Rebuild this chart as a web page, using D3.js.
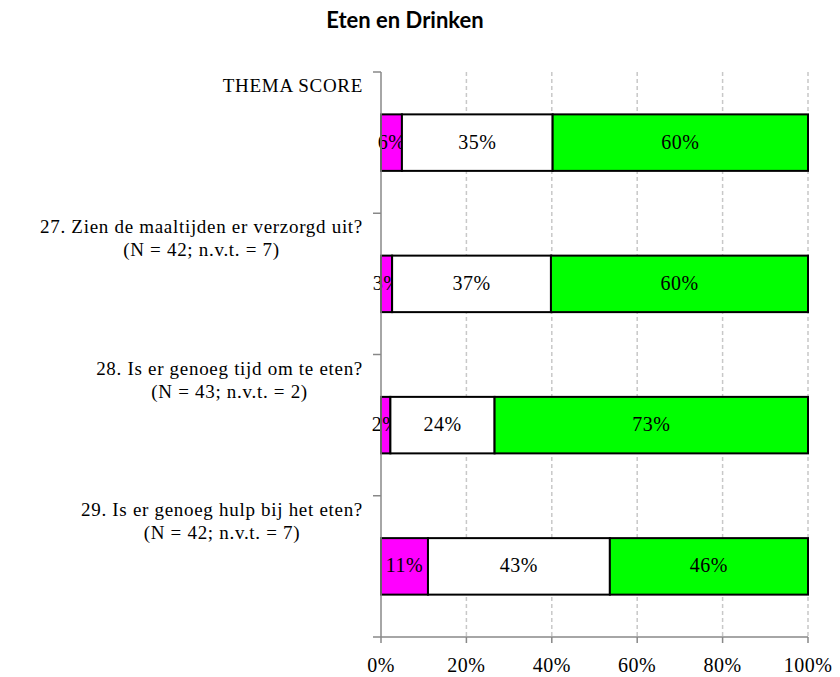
<!DOCTYPE html>
<html lang="nl">
<head>
<meta charset="utf-8">
<script src="https://d3js.org/d3.v7.min.js"></script>
<style>
  body { margin: 0; background: #fff; }
  svg text { font-family: "Liberation Serif", "DejaVu Serif", serif; fill: #000; }
</style>
</head>
<body>
<svg id="chart"></svg>
<script>
// categories (each label can have two lines)
const categories = ["THEMA SCORE", "27", "28", "29"];
const labelLines = [
  ["THEMA SCORE"],
  ["27. Zien de maaltijden er verzorgd uit?", "(N = 42; n.v.t. = 7)"],
  ["28. Is er genoeg tijd om te eten?", "(N = 43; n.v.t. = 2)"],
  ["29. Is er genoeg hulp bij het eten?", "(N = 42; n.v.t. = 7)"]
];
// share of answers per category, in percent (as drawn)
const negatief = [4.9, 2.6, 2.2, 11.0];
const neutraal = [35.3, 37.2, 24.4, 42.6];
const positief = [59.8, 60.2, 73.4, 46.4];
// labels printed in the bars
const negatiefLabels = ["6%", "3%", "2%", "11%"];
const neutraalLabels = ["35%", "37%", "24%", "43%"];
const positiefLabels = ["60%", "60%", "73%", "46%"];
const xTicks = [0, 20, 40, 60, 80, 100];

const width = 840, height = 677;
const seriesKeys = ["negatief", "neutraal", "positief"];
const colors = { negatief: "#ff00ff", neutraal: "#ffffff", positief: "#00ff00" };
const labelsByKey = { negatief: negatiefLabels, neutraal: neutraalLabels, positief: positiefLabels };

const rows = categories.map((c, i) => ({
  cat: c, idx: i, negatief: negatief[i], neutraal: neutraal[i], positief: positief[i]
}));

const svg = d3.select("#chart").attr("width", width).attr("height", height);

const x = d3.scaleLinear().domain([0, 100]).range([381, 808]);
const y = d3.scaleBand().domain(categories).range([72, 637])
  .paddingInner(0.6).paddingOuter(0.3);
const step = y.step();

// title
svg.append("text")
  .attr("x", 405).attr("y", 28)
  .attr("text-anchor", "middle")
  .style("font-family", "Lato, 'Open Sans', sans-serif")
  .style("font-weight", "bold")
  .style("font-size", "22px")
  .text("Eten en Drinken");

// gridlines
svg.append("g").selectAll("line")
  .data(xTicks.slice(1))
  .join("line")
  .attr("x1", d => x(d)).attr("x2", d => x(d))
  .attr("y1", 72).attr("y2", 637)
  .attr("stroke", "#c8c8c8")
  .attr("stroke-width", 1.5)
  .attr("stroke-dasharray", "4,3");

// stacked bars
const stacked = d3.stack().keys(seriesKeys)(rows);

const groups = svg.append("g").selectAll("g")
  .data(stacked)
  .join("g")
  .attr("fill", d => colors[d.key]);

groups.selectAll("rect")
  .data(d => d.map(v => Object.assign(v, { key: d.key })))
  .join("rect")
  .attr("x", d => x(d[0]))
  .attr("y", d => y(d.data.cat))
  .attr("width", d => x(d[1]) - x(d[0]))
  .attr("height", y.bandwidth())
  .attr("stroke", "#000")
  .attr("stroke-width", 2);

// bar labels
groups.selectAll("text")
  .data(d => d)
  .join("text")
  .attr("x", d => (x(d[0]) + x(d[1])) / 2)
  .attr("y", d => y(d.data.cat) + y.bandwidth() / 2 + 6)
  .attr("text-anchor", "middle")
  .style("font-size", "20px")
  .style("letter-spacing", "0.5px")
  .text(d => labelsByKey[d.key][d.data.idx]);

// y axis
const yAxis = svg.append("g");
yAxis.append("line")
  .attr("x1", 381).attr("x2", 381).attr("y1", 72).attr("y2", 637)
  .attr("stroke", "#888").attr("stroke-width", 1.5);
yAxis.selectAll("line.tick")
  .data(categories)
  .join("line")
  .attr("class", "tick")
  .attr("x1", 373).attr("x2", 381)
  .attr("y1", d => y(d) - step * 0.3)
  .attr("y2", d => y(d) - step * 0.3)
  .attr("stroke", "#888").attr("stroke-width", 1.5);

// category labels: block right-aligned, lines centered
categories.forEach((c, i) => {
  const top = y(c) - step * 0.3;
  const g = svg.append("g");
  const texts = labelLines[i].map((line, j) =>
    g.append("text")
      .attr("y", top + 20 + j * 23)
      .attr("text-anchor", "middle")
      .style("font-size", "19px")
      .style("letter-spacing", "0.7px")
      .text(line));
  const maxW = d3.max(texts, t => t.node().getComputedTextLength());
  texts.forEach(t => t.attr("x", 363 - maxW / 2));
});

// x axis
const xAxis = svg.append("g");
xAxis.append("line")
  .attr("x1", 373).attr("x2", 808).attr("y1", 637).attr("y2", 637)
  .attr("stroke", "#888").attr("stroke-width", 1.5);
xAxis.selectAll("line.tick")
  .data(xTicks)
  .join("line")
  .attr("class", "tick")
  .attr("x1", d => x(d)).attr("x2", d => x(d))
  .attr("y1", 637).attr("y2", 643)
  .attr("stroke", "#888").attr("stroke-width", 1.5);
xAxis.selectAll("text")
  .data(xTicks)
  .join("text")
  .attr("x", d => x(d))
  .attr("y", 672)
  .attr("text-anchor", "middle")
  .style("font-size", "20px")
  .style("letter-spacing", "0.5px")
  .text(d => d + "%");
</script>
</body>
</html>
